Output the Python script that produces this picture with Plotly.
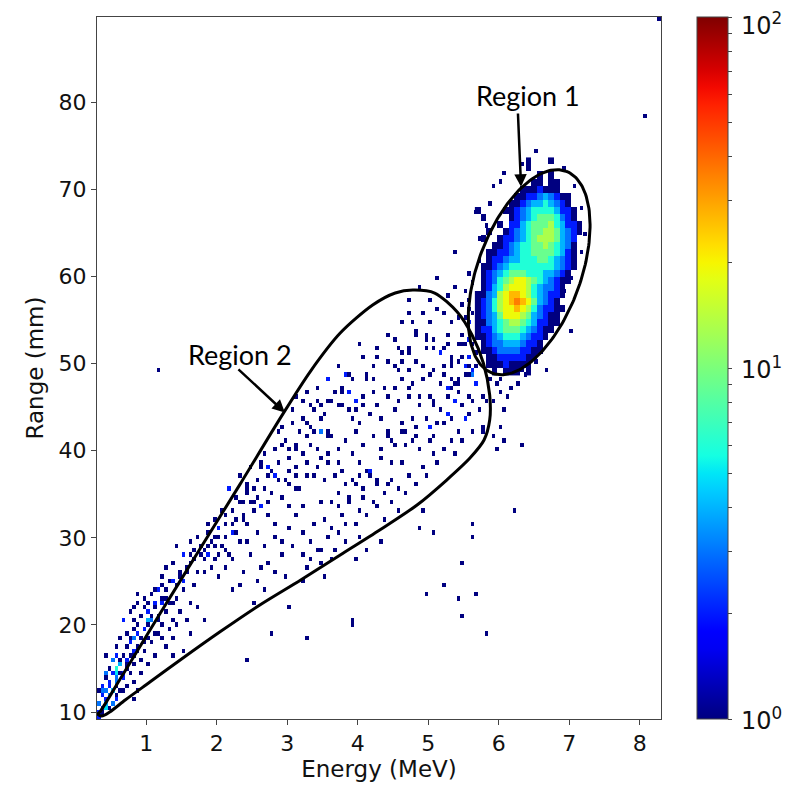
import numpy as np
import plotly.graph_objects as go

# ---- data ----
# fine histogram bins over the plotted range
e_min, e_max = 0.3, 8.3
r_min, r_max = 9.2, 89.8
n_bins = 160

# Region 1 cluster, coarse cells 0.08 MeV x 0.806 mm, top row first
cluster_e0 = 5.66
cluster_r0 = 48.69
cluster_de = 0.08
cluster_dr = 0.806
cluster_rows = [
    ".........1...1......",
    ".........1..........",
    "...........1.1......",
    "..........11.11.....",
    "........1112111.....",
    ".......1122343211...",
    "......11234454321...",
    "1....1123455554221..",
    ".1....123456665321..",
    "....1.2245666754221.",
    "..1..12345667764321.",
    ".1..12234567776432..",
    "...112345566765431..",
    "..1122345566665421..",
    "..1223445556654321..",
    ".11234555555554321..",
    ".1234566655544321...",
    ".1235678876543211...",
    ".124578887543321....",
    "1134789987543221....",
    "1235789a9864321.....",
    "1235788987532211....",
    "123468887643211.....",
    "113456776542211.....",
    "12245666543211......",
    "1123455543221.......",
    ".12334443221........",
    ".11233332211........",
    "..112222211.........",
    "..11121111..........",
    "...1.111.1..........",
]
level_counts = {"1": 1, "2": 2, "3": 3, "4": 4, "5": 6, "6": 9,
                "7": 13, "8": 19, "9": 27, "a": 36}

# (energy MeV, range mm, counts) for the sparse cells
tail_cells = [
    (0.32, 9.5, 2), (0.36, 9.9, 1), (0.40, 10.3, 3), (0.44, 10.3, 2), (0.48, 10.7, 1),
    (0.36, 10.7, 2), (0.32, 11.1, 3), (0.40, 11.1, 4), (0.44, 11.5, 2), (0.52, 11.1, 1),
    (0.56, 11.5, 2), (0.36, 11.9, 2), (0.48, 11.9, 3), (0.60, 11.9, 1), (0.32, 12.3, 1),
    (0.44, 12.3, 2), (0.52, 12.7, 4), (0.64, 12.3, 1), (0.40, 12.7, 1), (0.36, 13.1, 2),
    (0.56, 13.1, 1), (0.48, 13.5, 2), (0.68, 12.7, 1), (0.72, 13.1, 1), (0.60, 13.5, 3),
    (0.44, 13.9, 1), (0.52, 14.3, 2), (0.64, 14.3, 1), (0.40, 14.7, 1), (0.56, 14.7, 5),
    (0.68, 14.7, 2), (0.60, 15.1, 6), (0.48, 15.1, 1), (0.72, 15.5, 1), (0.52, 15.9, 2),
    (0.64, 15.9, 1), (0.80, 15.5, 1), (0.76, 14.3, 1), (0.84, 13.5, 1), (0.88, 12.3, 1),
    (0.80, 11.5, 1), (0.92, 14.7, 1), (0.68, 16.3, 1), (0.44, 16.3, 1), (0.56, 16.7, 2),
    (0.76, 16.7, 1), (0.84, 16.3, 1), (0.72, 17.5, 1), (0.80, 17.1, 2), (0.88, 17.5, 1),
    (0.96, 17.1, 1), (0.64, 18.3, 1), (0.76, 18.3, 1), (0.84, 18.7, 3), (0.92, 18.3, 1),
    (1.00, 18.7, 1), (1.08, 17.9, 1), (0.72, 19.1, 1), (0.80, 19.5, 1), (0.88, 19.9, 1),
    (0.96, 19.5, 2), (1.04, 19.9, 1), (1.12, 19.1, 1), (1.20, 18.3, 1), (0.68, 20.3, 2),
    (0.84, 20.7, 1), (0.92, 21.1, 1), (1.00, 20.7, 4), (1.08, 21.1, 1), (1.16, 20.3, 1),
    (1.24, 19.9, 1), (0.76, 21.5, 1), (0.88, 22.3, 1), (0.96, 21.9, 1), (1.04, 22.7, 1),
    (1.12, 21.9, 1), (1.20, 22.3, 2), (1.28, 21.5, 1), (1.36, 20.7, 1), (0.96, 23.1, 1),
    (1.08, 23.5, 1), (1.16, 23.9, 2), (1.24, 23.1, 1), (1.32, 22.7, 1), (1.40, 22.3, 1),
    (1.48, 21.5, 1), (1.56, 20.3, 1), (1.64, 19.1, 1), (1.40, 18.3, 1), (1.28, 17.5, 1),
    (1.36, 16.7, 1), (1.52, 17.1, 1), (1.12, 24.3, 1), (1.20, 24.7, 1), (1.28, 24.3, 1),
    (1.36, 25.1, 2), (1.44, 24.7, 1), (1.52, 23.9, 1), (1.60, 22.7, 1), (1.72, 21.9, 1),
    (1.80, 20.7, 1), (1.48, 26.3, 1), (1.56, 26.7, 1), (1.64, 27.1, 1), (1.72, 26.3, 1),
    (1.80, 27.5, 1), (1.88, 27.9, 2), (1.96, 27.5, 1), (2.04, 27.9, 1), (1.60, 28.3, 1),
    (1.68, 28.7, 1), (1.76, 29.1, 1), (1.84, 28.7, 1), (1.92, 29.5, 1), (2.00, 29.9, 1),
    (2.08, 29.1, 1), (2.16, 28.3, 1), (1.72, 30.3, 1), (1.88, 30.7, 1), (2.04, 31.1, 1),
    (2.12, 30.3, 1), (2.20, 31.5, 1), (2.28, 30.7, 1), (1.96, 31.9, 1), (2.12, 32.7, 1),
    (2.24, 33.1, 1), (2.36, 32.3, 1), (2.44, 31.5, 1), (2.32, 34.3, 1), (2.40, 35.1, 1),
    (2.16, 35.5, 1), (2.52, 33.9, 1), (1.44, 29.1, 1), (1.52, 27.9, 2), (2.00, 25.5, 1),
    (2.12, 26.7, 1), (2.24, 27.5, 1), (2.36, 26.3, 1), (2.48, 27.9, 1), (2.60, 26.7, 1),
    (2.32, 24.7, 1), (2.56, 25.1, 1), (2.72, 27.1, 1), (2.84, 26.3, 1),
    (0.34, 10.1, 2), (0.38, 12.5, 3), (0.46, 12.9, 2), (0.50, 10.9, 2), (0.42, 14.3, 2),
    (0.58, 14.1, 3), (0.62, 15.5, 4), (0.66, 13.9, 2), (0.70, 14.9, 1), (0.74, 16.1, 2),
    (0.54, 16.1, 1), (0.60, 17.3, 1), (0.78, 17.9, 2), (0.86, 16.9, 1), (0.90, 19.1, 2),
    (0.98, 18.1, 1), (1.02, 21.5, 2), (1.06, 20.3, 3), (0.82, 21.9, 1), (0.90, 23.5, 1),
    (1.14, 22.7, 2), (1.18, 21.1, 1), (1.26, 22.9, 1), (1.30, 24.9, 1), (1.22, 25.7, 1),
    (1.42, 23.3, 1), (1.46, 25.5, 1), (1.54, 25.1, 2), (1.58, 26.1, 1), (1.66, 24.7, 1),
    (1.70, 27.7, 1), (1.62, 29.5, 1), (1.78, 28.3, 1), (1.82, 25.9, 1), (1.94, 26.7, 1),
    (1.32, 19.5, 1), (1.44, 20.1, 1), (1.10, 16.5, 1), (1.00, 15.7, 1), (1.16, 18.9, 1),
    (0.94, 16.1, 1), (1.26, 26.5, 1), (1.38, 27.3, 1), (2.06, 33.3, 1), (1.98, 30.3, 1),
    (2.26, 32.1, 1), (2.44, 29.5, 1), (2.56, 30.7, 1), (2.68, 29.1, 1), (2.80, 30.3, 1),
    (2.90, 28.0, 1), (2.66, 24.0, 1), (2.96, 25.6, 1), (2.50, 22.8, 1),
]

region2_cells = [
    (4.88, 58.7, 1), (5.12, 59.6, 1), (4.74, 57.1, 1), (5.14, 56.2, 1), (5.22, 55.8, 1),
    (4.70, 55.8, 1), (4.77, 54.8, 1), (5.02, 54.8, 1), (4.84, 53.9, 1), (4.84, 53.5, 1),
    (4.41, 53.5, 1), (4.99, 53.5, 1), (5.26, 53.3, 1), (5.46, 52.5, 1), (5.54, 52.1, 1),
    (5.28, 52.5, 1), (4.96, 52.7, 1), (4.57, 51.9, 1), (4.62, 51.3, 1), (4.70, 52.0, 1),
    (4.70, 51.2, 1), (4.29, 51.8, 1), (4.00, 52.1, 1), (4.96, 51.9, 1), (5.07, 51.6, 1),
    (5.15, 51.2, 2), (5.21, 51.6, 1), (5.34, 51.0, 1), (5.42, 50.2, 1), (4.29, 50.8, 1),
    (4.41, 50.1, 1), (4.63, 50.4, 1), (4.84, 50.1, 1), (4.53, 49.6, 1), (4.57, 49.3, 1),
    (5.55, 49.8, 1), (5.62, 49.3, 2), (5.69, 49.8, 1), (3.82, 48.9, 1), (3.86, 48.9, 1),
    (3.93, 48.3, 1), (4.13, 48.9, 1), (4.13, 48.3, 1), (4.24, 48.0, 1), (3.58, 48.1, 1),
    (4.60, 48.1, 1), (4.78, 47.8, 1), (5.21, 48.5, 1), (5.30, 48.1, 1), (5.17, 47.8, 1),
    (5.25, 47.4, 2), (5.33, 47.0, 1), (5.41, 46.6, 1), (5.37, 47.8, 1), (4.70, 47.3, 1),
    (3.65, 46.7, 1), (3.77, 46.7, 1), (3.89, 46.7, 2), (4.07, 46.0, 1), (4.41, 46.0, 1),
    (4.70, 46.0, 1), (4.88, 46.0, 1), (5.02, 46.4, 1), (5.10, 45.6, 1), (5.55, 46.2, 1),
    (5.63, 45.8, 1), (5.75, 46.2, 1), (5.83, 45.5, 1), (3.60, 45.6, 1), (3.99, 45.6, 2),
    (3.99, 44.9, 1), (3.49, 45.0, 1), (3.53, 44.1, 1), (3.77, 45.0, 1), (3.85, 44.5, 1),
    (3.91, 43.9, 1), (4.07, 45.0, 1), (4.88, 45.0, 1), (5.07, 45.0, 1), (5.15, 44.5, 1),
    (5.27, 44.1, 2), (5.35, 43.7, 1), (4.32, 43.8, 1), (4.62, 43.3, 1), (4.66, 42.4, 1),
    (4.78, 43.9, 1), (4.84, 42.8, 1), (4.95, 43.5, 1), (5.03, 42.8, 2), (5.11, 43.2, 1),
    (4.03, 43.2, 1), (4.41, 42.0, 1), (4.45, 41.2, 1), (4.84, 41.6, 1), (5.21, 43.2, 1),
    (5.41, 42.4, 1), (5.78, 42.7, 1), (3.46, 43.5, 1), (3.55, 42.4, 1), (3.62, 41.6, 1),
    (3.22, 45.6, 1), (3.30, 45.2, 1), (3.37, 44.9, 1), (3.44, 45.5, 1), (3.56, 45.6, 1),
    (3.70, 45.0, 1), (3.75, 47.0, 1), (3.56, 48.1, 1), (3.82, 48.7, 1), (3.25, 43.2, 1),
    (3.37, 42.4, 1), (3.45, 42.0, 1), (2.85, 42.0, 1), (2.94, 40.9, 1), (3.00, 40.1, 1),
    (3.04, 39.3, 1), (3.14, 40.4, 1), (3.22, 39.7, 1), (3.28, 38.9, 1), (2.61, 38.1, 1),
    (2.70, 37.4, 1), (2.80, 37.0, 1), (2.89, 38.6, 1), (3.02, 37.8, 1), (3.14, 38.2, 1),
    (3.25, 37.0, 1), (3.37, 37.4, 1), (2.42, 36.3, 1), (2.50, 35.5, 1), (2.58, 34.7, 1),
    (2.70, 34.3, 1), (2.75, 37.8, 1), (2.88, 36.6, 1), (3.02, 35.9, 1), (3.14, 35.5, 1),
    (2.19, 35.8, 1), (2.27, 34.7, 1), (2.35, 33.9, 1), (2.52, 33.2, 1), (3.46, 39.3, 1),
    (3.58, 38.9, 1), (3.70, 38.6, 1), (4.03, 38.9, 1), (4.13, 37.8, 1), (4.32, 39.3, 1),
    (4.45, 38.9, 1), (4.60, 38.6, 1), (4.41, 41.6, 1), (4.52, 40.9, 1), (4.65, 40.5, 1),
    (4.78, 41.2, 1), (4.88, 40.1, 1), (4.17, 37.0, 1), (4.29, 36.6, 1), (4.41, 36.3, 1),
    (3.84, 36.3, 1), (3.96, 35.9, 1), (4.08, 35.5, 1), (3.22, 43.5, 1), (3.34, 42.8, 1),
    (3.48, 42.4, 2), (3.56, 41.6, 1), (2.96, 41.2, 1), (3.10, 40.5, 1), (3.26, 41.6, 1),
    (3.42, 40.1, 1), (3.56, 39.7, 1), (2.60, 38.6, 1), (2.72, 38.2, 2), (2.84, 37.4, 1),
    (2.96, 36.6, 1), (3.10, 37.0, 1), (3.18, 35.5, 1), (2.40, 35.8, 1), (2.48, 34.3, 1),
    (2.60, 33.5, 2), (2.72, 32.8, 1), (2.84, 31.6, 1), (2.36, 32.4, 1), (1.90, 31.8, 1),
    (2.00, 30.9, 1), (2.10, 31.6, 1), (2.20, 30.5, 2), (2.30, 29.7, 1), (1.86, 29.3, 1),
    (1.98, 28.9, 1), (2.14, 28.5, 1), (3.46, 34.0, 1), (3.52, 32.0, 1), (3.56, 30.0, 1),
    (3.60, 27.5, 1), (2.92, 29.4, 1), (3.06, 28.9, 1), (3.20, 28.2, 1), (3.34, 27.4, 1),
    (3.46, 28.6, 1), (3.79, 37.8, 1), (3.92, 36.6, 1), (4.03, 37.4, 1), (4.16, 37.8, 2),
    (4.25, 36.2, 1), (4.36, 35.3, 1), (4.48, 36.6, 1), (4.58, 35.8, 1), (4.08, 34.7, 1),
    (4.20, 34.3, 1), (3.60, 34.3, 1), (3.70, 33.5, 1), (3.78, 32.7, 1), (3.86, 33.9, 1),
    (3.95, 31.8, 1), (3.60, 31.2, 1), (3.72, 30.6, 1), (3.84, 31.5, 1), (3.20, 30.5, 1),
    (3.30, 29.8, 1), (3.40, 28.5, 1), (3.48, 27.2, 1), (3.28, 26.7, 1), (3.22, 25.2, 1),
    (4.13, 28.6, 1), (3.96, 27.8, 1), (3.12, 32.5, 1), (3.00, 33.4, 1), (3.05, 44.8, 1),
    (3.12, 46.2, 1),
    (2.55, 36.8, 1), (2.65, 35.6, 1), (2.78, 35.0, 1), (2.92, 34.6, 1), (2.30, 37.2, 1),
    (2.48, 38.0, 1), (2.66, 39.5, 1), (2.80, 40.2, 1), (2.94, 42.6, 1), (3.08, 43.4, 1),
    (3.16, 42.0, 1), (3.30, 40.8, 1), (3.40, 38.2, 1), (3.52, 36.8, 1), (3.66, 37.2, 1),
    (3.74, 35.2, 1), (3.88, 34.6, 1), (4.00, 33.2, 1), (4.12, 32.4, 1), (4.26, 33.6, 1),
    (4.36, 32.0, 1), (4.48, 34.0, 1), (4.56, 33.0, 1), (4.66, 35.0, 1), (4.72, 37.2, 1),
    (4.80, 36.0, 1), (4.90, 38.4, 1), (4.98, 37.4, 1), (5.06, 39.6, 1), (5.14, 38.6, 1),
    (5.22, 40.4, 1), (5.30, 41.2, 1), (5.38, 39.8, 1), (5.46, 41.0, 1), (5.50, 43.6, 2),
    (5.58, 44.4, 1), (5.64, 42.0, 1), (5.70, 44.6, 1), (5.46, 45.4, 1), (5.36, 45.8, 2),
    (5.26, 46.2, 1), (5.44, 48.2, 1), (5.30, 50.4, 1), (5.20, 50.0, 1), (5.10, 49.0, 1),
    (5.00, 48.6, 1), (4.92, 49.6, 1), (4.70, 49.2, 1), (4.50, 47.4, 1), (4.36, 47.0, 1),
    (4.20, 46.6, 1), (4.28, 45.2, 1), (4.16, 44.2, 1), (4.50, 44.6, 1), (4.58, 45.6, 1),
    (3.96, 42.2, 1), (3.84, 41.0, 1), (3.72, 40.2, 1), (4.08, 40.6, 1), (4.22, 41.6, 1),
    (4.30, 40.0, 1), (3.94, 39.6, 1), (4.60, 42.0, 1), (5.00, 41.0, 1), (5.10, 41.8, 1),
    (4.50, 53.0, 1), (4.60, 54.6, 1), (4.90, 56.0, 1), (5.00, 57.4, 1), (5.30, 54.6, 1),
    (5.40, 55.4, 1), (5.06, 52.6, 1), (4.20, 49.6, 1), (3.70, 49.8, 1), (4.05, 50.6, 1),
    (4.90, 48.2, 1), (3.40, 47.0, 1), (3.28, 46.6, 1), (3.00, 31.0, 1), (3.20, 33.6, 1),
    (3.38, 31.6, 1), (3.66, 28.8, 1), (3.80, 29.6, 1), (4.00, 30.2, 1), (4.30, 29.4, 1),
    (3.52, 25.8, 1),
]

edge_cells = [
    (5.45, 57.0, 1), (5.55, 56.4, 1), (5.48, 53.3, 1), (5.56, 53.0, 2), (5.62, 52.2, 1),
    (5.66, 51.3, 1), (5.40, 52.5, 1), (5.46, 51.0, 1), (5.52, 49.8, 2), (5.50, 48.9, 1),
    (5.58, 48.5, 1), (5.66, 47.7, 2), (5.62, 48.9, 3), (5.42, 47.5, 1), (5.58, 50.6, 2),
    (5.30, 49.6, 1), (5.50, 58.3, 1), (5.58, 57.4, 1), (5.62, 56.0, 1), (5.60, 54.6, 2),
    (5.52, 55.4, 1), (5.64, 59.2, 1), (5.58, 60.4, 1), (5.36, 58.6, 1), (5.28, 57.6, 1),
    (5.88, 48.1, 1), (5.96, 47.7, 1), (6.04, 48.1, 1), (6.16, 47.3, 1), (6.28, 47.7, 1),
    (6.36, 48.5, 1), (6.00, 46.8, 1), (5.92, 45.6, 1), (6.08, 44.8, 1), (6.12, 46.0, 1),
    (5.86, 68.6, 1), (5.94, 70.2, 1), (6.02, 71.0, 1), (6.10, 72.0, 1), (5.80, 66.0, 1),
    (5.74, 64.4, 1), (5.70, 62.0, 1), (6.30, 73.0, 1), (6.50, 74.2, 1), (6.92, 72.4, 1),
    (7.10, 70.6, 1), (7.18, 68.0, 1), (7.22, 65.0, 1), (7.16, 62.8, 1), (7.02, 60.0, 1),
    (6.90, 58.2, 1), (6.80, 56.0, 1), (6.70, 54.4, 1), (6.56, 52.6, 1), (6.44, 51.0, 1),
    (6.30, 49.4, 1), (6.52, 50.2, 1), (6.66, 49.0, 1),
]

outlier_cells = [
    (4.93, 33.0, 1), (4.88, 31.0, 1), (5.05, 30.6, 1), (5.62, 31.5, 1), (5.62, 30.2, 1),
    (6.20, 33.0, 1), (5.45, 27.0, 1), (5.21, 24.5, 1), (4.97, 23.8, 1), (5.40, 23.3, 1),
    (5.65, 23.8, 1), (5.45, 20.9, 1), (5.85, 19.0, 1), (3.93, 20.6, 1), (3.93, 20.1, 1),
    (3.28, 18.6, 1), (1.19, 49.3, 1), (8.07, 78.3, 1), (8.28, 89.6, 1), (7.00, 53.6, 1),
    (5.38, 63.0, 1), (5.69, 67.4, 1), (5.92, 62.8, 1), (6.30, 40.9, 1), (5.78, 42.2, 1),
    (5.90, 41.5, 1), (6.00, 42.7, 1), (6.08, 41.0, 1), (5.95, 40.2, 1), (2.40, 16.2, 1),
    (2.75, 19.0, 1), (3.01, 21.9, 1), (2.23, 24.0, 1),
]

# hand-drawn outlines (annotation geometry)
region2_outline_e = [0.34, 0.62, 1.19, 1.76, 2.33, 2.90, 3.32, 3.75, 4.21, 4.53, 4.78,
                     5.09, 5.41, 5.62, 5.78, 5.87, 5.87, 5.79, 5.59, 5.26, 4.84, 4.31,
                     3.75, 3.19, 2.61, 2.04, 1.48, 1.05, 0.70, 0.48, 0.37, 0.31, 0.34]
region2_outline_r = [10.0, 13.67, 21.25, 28.71, 36.17, 43.75, 49.04, 53.51, 56.73, 58.11,
                     58.45, 58.11, 55.93, 53.29, 50.07, 46.40, 43.52, 41.23, 39.16, 36.64,
                     33.77, 30.90, 28.03, 25.16, 22.29, 19.18, 15.97, 13.44, 11.38, 10.0,
                     9.54, 9.77, 10.0]
ellipse_center = (6.43, 60.5)
ellipse_u = (0.52, 11.6)
ellipse_v = (-0.69, 2.0)


# matplotlib "jet"
def jet(v):
    r = np.interp(v, [0, 0.35, 0.66, 0.89, 1], [0, 0, 1, 1, 0.5])
    g = np.interp(v, [0, 0.125, 0.375, 0.64, 0.91, 1], [0, 0, 1, 1, 0, 0])
    b = np.interp(v, [0, 0.11, 0.34, 0.65, 1], [0.5, 1, 1, 0, 0])
    return "rgb(%d,%d,%d)" % (round(r * 255), round(g * 255), round(b * 255))


jet_scale = [[float(v), jet(v)] for v in np.linspace(0, 1, 41)]

# fine histogram of the sparse cells
cells = tail_cells + region2_cells + edge_cells + outlier_cells
H, xe, ye = np.histogram2d([c[0] for c in cells], [c[1] for c in cells],
                           bins=n_bins, range=[[e_min, e_max], [r_min, r_max]],
                           weights=[c[2] for c in cells])
H = H.T
z_fine = [[float(np.log10(v)) if v > 0 else None for v in row] for row in H]
x_fine = ((xe[:-1] + xe[1:]) / 2).tolist()
y_fine = ((ye[:-1] + ye[1:]) / 2).tolist()

# coarse cluster grid
z_cluster = []
for row in reversed(cluster_rows):
    z_cluster.append([float(np.log10(level_counts[ch])) if ch != "." else None for ch in row])

fig = go.Figure()
fig.add_trace(go.Heatmap(x=x_fine, y=y_fine, z=z_fine, coloraxis="coloraxis",
                         hoverinfo="skip"))
fig.add_trace(go.Heatmap(z=z_cluster, x0=cluster_e0 + cluster_de / 2, dx=cluster_de,
                         y0=cluster_r0 + cluster_dr / 2, dy=cluster_dr,
                         coloraxis="coloraxis", hoverinfo="skip"))

# region outlines
t = np.linspace(0, 2 * np.pi, 200)
ell_e = ellipse_center[0] + ellipse_u[0] * np.cos(t) + ellipse_v[0] * np.sin(t)
ell_r = ellipse_center[1] + ellipse_u[1] * np.cos(t) + ellipse_v[1] * np.sin(t)
fig.add_trace(go.Scatter(x=ell_e, y=ell_r, mode="lines", line=dict(color="black", width=3),
                         showlegend=False, hoverinfo="skip"))
fig.add_trace(go.Scatter(x=region2_outline_e, y=region2_outline_r, mode="lines",
                         line=dict(color="black", width=3, shape="spline", smoothing=0.8),
                         showlegend=False, hoverinfo="skip"))

# labels and arrows
label_font = dict(family="Lato", size=27, color="black")
fig.add_annotation(x=6.41, y=80.8, text="Region 1", showarrow=False, font=label_font)
fig.add_annotation(x=2.33, y=51.1, text="Region 2", showarrow=False, font=label_font)
fig.add_annotation(x=6.315, y=70.3, ax=6.27, ay=78.9, axref="x", ayref="y", text="",
                   showarrow=True, arrowhead=2, arrowsize=1, arrowwidth=2.5, arrowcolor="black")
fig.add_annotation(x=2.965, y=44.4, ax=2.285, ay=49.5, axref="x", ayref="y", text="",
                   showarrow=True, arrowhead=2, arrowsize=1, arrowwidth=2.5, arrowcolor="black")

# colour bar: log ticks, labels placed beside the bar
cb_vals = [1, 2, 3, 4, 5, 6, 7, 8, 9, 10, 20, 30, 40, 50, 60, 70, 80, 90, 100]
cb_labels = {1: "10<sup>0</sup>", 10: "10<sup>1</sup>", 100: "10<sup>2</sup>"}
for v, txt in cb_labels.items():
    fig.add_annotation(xref="paper", yref="paper", x=1.138, y=np.log10(v) / 2,
                       xanchor="left", yanchor="middle", text=txt, showarrow=False,
                       yshift=-7 if v == 100 else 0,
                       font=dict(family="DejaVu Sans", size=24, color="#111"))

axis_font = dict(family="DejaVu Sans", size=22, color="#111")
title_font = dict(family="DejaVu Sans", size=23, color="#111")

# the page body adds an 8 px offset, so the figure is 8 px smaller than the window
fig.update_layout(
    width=783, height=779,
    margin=dict(l=89, r=130, t=9, b=68),
    paper_bgcolor="white", plot_bgcolor="white",
    showlegend=False,
    coloraxis=dict(
        colorscale=jet_scale, cmin=0, cmax=2,
        colorbar=dict(
            thickness=31, len=1, lenmode="fraction", x=1.064, xanchor="left",
            y=0.5, yanchor="middle", xpad=0, ypad=0,
            outlinewidth=1, outlinecolor="#444",
            tickvals=[float(np.log10(v)) for v in cb_vals],
            showticklabels=False,
            ticks="outside", ticklen=4, tickcolor="#444",
        ),
    ),
    xaxis=dict(
        range=[e_min, e_max], tickvals=[1, 2, 3, 4, 5, 6, 7, 8],
        ticks="outside", ticklen=5, tickcolor="#444", automargin=False,
        showline=True, mirror=True, linecolor="#444", linewidth=1,
        showgrid=False, zeroline=False, tickfont=axis_font,
        title=dict(text="Energy (MeV)", font=title_font, standoff=4),
    ),
    yaxis=dict(
        range=[r_min, r_max], tickvals=[10, 20, 30, 40, 50, 60, 70, 80],
        ticks="outside", ticklen=5, tickcolor="#444", automargin=False,
        showline=True, mirror=True, linecolor="#444", linewidth=1,
        showgrid=False, zeroline=False, tickfont=axis_font,
        title=dict(text="Range (mm)", font=title_font, standoff=8),
    ),
)

fig.write_html("out.html")
